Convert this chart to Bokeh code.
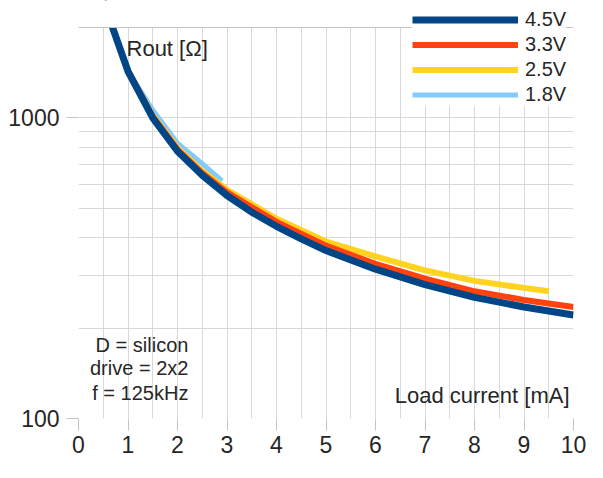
import math
from bokeh.plotting import figure
from bokeh.models import (Legend, LegendItem, Label, FixedTicker, BasicTickFormatter,
                          Range1d, BoxAnnotation, Span)
from bokeh.embed import file_html
from bokeh.resources import INLINE

# ---- data ----
current_45 = [0.5, 1, 1.5, 2, 2.5, 3, 3.5, 4, 4.5, 5, 6, 7, 8, 9, 10]
rout_45 = [2450, 1430, 1000, 775, 645, 552, 486, 436, 396, 362, 314, 279, 253, 235, 221]
current_33 = [1, 1.5, 2, 2.5, 3, 4, 5, 6, 7, 8, 9, 10]
rout_33 = [1430, 1010, 785, 655, 566, 451, 376, 327, 292, 265, 248, 235]
current_25 = [1, 1.5, 2, 2.5, 3, 4, 5, 6, 7, 8, 9, 9.5]
rout_25 = [1430, 1020, 795, 665, 577, 462, 388, 346, 311, 287, 272, 265]
current_18 = [1, 1.5, 2, 2.5, 2.9]
rout_18 = [1430, 1064, 824, 705, 617]

series_labels = ["4.5V", "3.3V", "2.5V", "1.8V"]
x_ticks = [0, 1, 2, 3, 4, 5, 6, 7, 8, 9, 10]
y_ticks = [100, 1000]
y_min, y_max = 100, 2000

FONT = "Liberation Sans"
TXT = "#262626"
GRID = "#d9d9d9"
EDGE = "#c4c4c4"

# layout geometry (px)
W, H = 587, 462
B_LEFT, B_RIGHT, B_BOTTOM = 78, 14, 44
TOP_GAP = 27          # visible plot box starts this far below the canvas top
frame_h = H - B_BOTTOM
decade_px = (frame_h - TOP_GAP) / math.log10(y_max / y_min)
y_top = 10 ** (math.log10(y_max) + TOP_GAP / decade_px)

p = figure(width=W, height=H, y_axis_type="log",
           x_range=Range1d(0, 10), y_range=Range1d(y_min, y_top),
           output_backend="svg", toolbar_location=None,
           min_border_left=B_LEFT, min_border_right=B_RIGHT,
           min_border_top=0, min_border_bottom=B_BOTTOM)
p.background_fill_color = "white"
p.border_fill_color = "white"
p.outline_line_color = None

# grids
p.xgrid.ticker = FixedTicker(ticks=[i * 0.5 for i in range(21)])
p.ygrid.ticker = FixedTicker(ticks=[100, 200, 300, 400, 500, 600, 700, 800, 900, 1000])
for g in (p.xgrid, p.ygrid):
    g.grid_line_color = GRID
    g.grid_line_width = 1
    g.minor_grid_line_color = None

# axes
for ax in (p.xaxis, p.yaxis):
    ax.axis_line_color = None
    ax.major_tick_in = 0
    ax.major_tick_out = 12
    ax.major_tick_line_color = EDGE
    ax.minor_tick_line_color = None
    ax.major_label_text_font = FONT
    ax.major_label_text_font_size = "23px"
    ax.major_label_text_color = TXT
p.xaxis.ticker = FixedTicker(ticks=x_ticks)
p.yaxis.ticker = FixedTicker(ticks=y_ticks)
p.yaxis.formatter = BasicTickFormatter(use_scientific=False)
p.xaxis.major_label_standoff = 5
p.yaxis.major_label_standoff = 7

# lines
r18 = p.line(current_18, rout_18, line_color="#83caff", line_width=5, line_join="round")
r25 = p.line(current_25, rout_25, line_color="#ffd320", line_width=6, line_join="round")
r33 = p.line(current_33, rout_33, line_color="#ff420e", line_width=6, line_join="round")
r45 = p.line(current_45, rout_45, line_color="#004586", line_width=7, line_join="round")

# blank area above the plot box, and the box's top edge
p.add_layout(BoxAnnotation(bottom=y_max, fill_color="white", fill_alpha=1.0, line_color=None))
p.add_layout(Span(location=y_max, dimension="width", line_color=EDGE, line_width=1))

legend = Legend(items=[LegendItem(label=series_labels[0], renderers=[r45]),
                       LegendItem(label=series_labels[1], renderers=[r33]),
                       LegendItem(label=series_labels[2], renderers=[r25]),
                       LegendItem(label=series_labels[3], renderers=[r18])],
                location=(334, frame_h - 106), margin=0, padding=4, spacing=2,
                glyph_width=106, glyph_height=23, label_height=23,
                label_standoff=7, border_line_color=None,
                background_fill_color="white", background_fill_alpha=1.0,
                label_text_font=FONT, label_text_font_size="20px",
                label_text_color=TXT)
p.add_layout(legend)

# annotations
p.add_layout(Label(x=0.97, y=1706, text="Rout [Ω]", text_baseline="middle",
                   text_font=FONT, text_font_size="22px", text_color=TXT))
for txt, yv in (("D = silicon", 176), ("drive = 2x2", 147), ("f = 125kHz", 122)):
    p.add_layout(Label(x=2.22, y=yv, text=txt, text_align="right", text_baseline="middle",
                       text_font=FONT, text_font_size="20px", text_color=TXT))
p.add_layout(Label(x=9.92, y=119, text="Load current [mA]", text_align="right",
                   text_baseline="middle", text_font=FONT, text_font_size="22px",
                   text_color=TXT))

open("out.html", "w").write(file_html(p, INLINE))
